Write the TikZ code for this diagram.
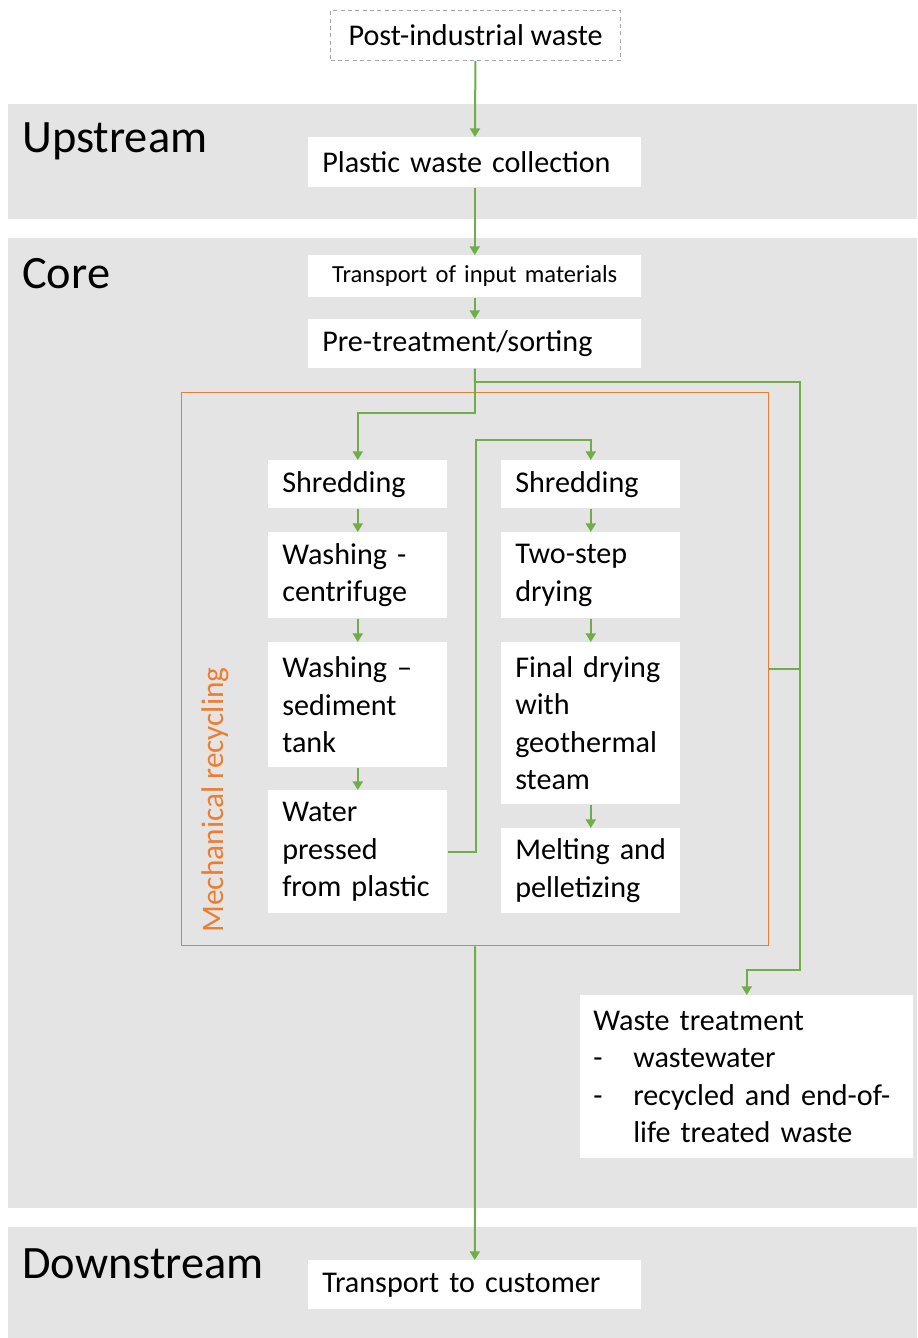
\documentclass[tikz,border=0pt]{standalone}
\usepackage{fontspec}
\setmainfont{Carlito}
\usetikzlibrary{arrows.meta, positioning}
\definecolor{bandgray}{HTML}{E4E4E4}
\definecolor{flowgreen}{HTML}{70AD47}
\definecolor{mechorange}{HTML}{ED7D31}
\definecolor{dashgray}{HTML}{A6A6A6}
\hyphenpenalty=10000
\exhyphenpenalty=10000

\begin{document}
\begin{tikzpicture}[x=0.75pt, y=-0.75pt,
        band/.style={fill=bandgray},
        title/.style={anchor=west, inner sep=0pt, font=\fontsize{34.8}{42}\selectfont},
        wide/.style={fill=white, anchor=north west, align=left, text width=228.75pt,
            inner xsep=10.5pt, inner ysep=0pt, font=\fontsize{22.6}{28}\selectfont},
        narrow/.style={fill=white, anchor=north west, align=left, text width=113.25pt,
            inner xsep=10.5pt, inner ysep=0pt, font=\fontsize{22.6}{28}\selectfont},
        flow/.style={draw=flowgreen, line width=1.5pt, -{Triangle[width=7.5pt,length=6.5pt]}},
        link/.style={draw=flowgreen, line width=1.5pt}
    ]
        \path[use as bounding box] (0,0) rectangle (917,1338);

        % Stage bands
        \fill[band] (8,104) rectangle (917,219);
        \fill[band] (8,238) rectangle (917,1208);
        \fill[band] (8,1227) rectangle (917,1338);
        \node[title] (upstream) at (22,141) {Upstream};
        \node[title] (core) at (22,274) {Core};
        \node[title] (downstream) at (22,1264) {Downstream};

        % Input
        \node[draw=dashgray, dash pattern=on 3pt off 2.5pt, line width=0.9pt, anchor=north west,
            minimum width=217.5pt, minimum height=37.5pt, inner sep=0pt,
            font=\fontsize{22.6}{28}\selectfont] (postind) at (330,10)
            {Post-industrial waste};

        % Main chain
        \node[wide, minimum height=37.5pt] (collect) at (308,137) {Plastic waste collection};
        \node[wide, minimum height=31.5pt, align=center, font=\fontsize{18.4}{22}\selectfont] (transin) at (308,255)
            {Transport of input materials};
        \node[wide, minimum height=36.75pt] (pretreat) at (308,319) {Pre-treatment/sorting};

        % Mechanical recycling
        \node[draw=mechorange, line width=1.1pt, anchor=north west, minimum width=440.25pt,
            minimum height=414.75pt, inner sep=0pt] (mech) at (181,392) {};
        \node[rotate=90, text=mechorange, font=\fontsize{23.5}{28}\selectfont] (mechlabel) at (215,800)
            {Mechanical recycling};

        \node[narrow, minimum height=36pt] (shredA) at (268,460) {Shredding};
        \node[narrow, minimum height=64.5pt] (washA) at (268,532) {Washing -\\centrifuge};
        \node[narrow, minimum height=93.75pt] (washB) at (268,642) {Washing –\\sediment\\tank};
        \node[narrow, minimum height=92.25pt] (water) at (268,790) {Water\\pressed\\from plastic};

        \node[narrow, minimum height=36pt] (shredB) at (501,460) {Shredding};
        \node[narrow, minimum height=64.5pt] (dryA) at (501,532) {Two-step\\drying};
        \node[narrow, minimum height=121.5pt] (dryB) at (501,642) {Final drying\\with\\geothermal\\steam};
        \node[narrow, minimum height=63.75pt] (melt) at (501,828) {Melting and\\pelletizing};

        % Outputs
        \node[wide, minimum height=122.25pt, inner xsep=9.75pt, text width=230.25pt] (waste) at (580,995)
            {Waste treatment\\
             \makebox[30pt][l]{-}wastewater\\
             \makebox[30pt][l]{-}\mbox{recycled and end-of-}\\
             \hspace*{30pt}life treated waste};
        \node[wide, minimum height=36.75pt] (custom) at (308,1260) {Transport to customer};

        % Connectors
        \coordinate (split) at (475,382);
        \draw[flow] (postind) -- (collect);
        \draw[flow] (collect) -- (transin);
        \draw[flow] (transin) -- (pretreat);
        \draw[link] (pretreat.south) -- (split);
        \draw[flow] (split) -- ++(325,0) coordinate (rt) -- ++(0,588) -| (waste);
        \draw[link] (mech.east) -- (rt |- mech.east);
        \draw[flow] (split) -- ++(0,31) -| (shredA);
        \draw[flow] (shredA) -- (washA);
        \draw[flow] (washA) -- (washB);
        \draw[flow] (washB) -- (water);
        \draw[flow] (water.east) -- ++(28,0) |- ([yshift=15pt]shredB.north) -- (shredB);
        \draw[flow] (shredB) -- (dryA);
        \draw[flow] (dryA) -- (dryB);
        \draw[flow] (dryB) -- (melt);
        \draw[flow] (mech.south) -- (custom);
    \end{tikzpicture}
\end{document}
